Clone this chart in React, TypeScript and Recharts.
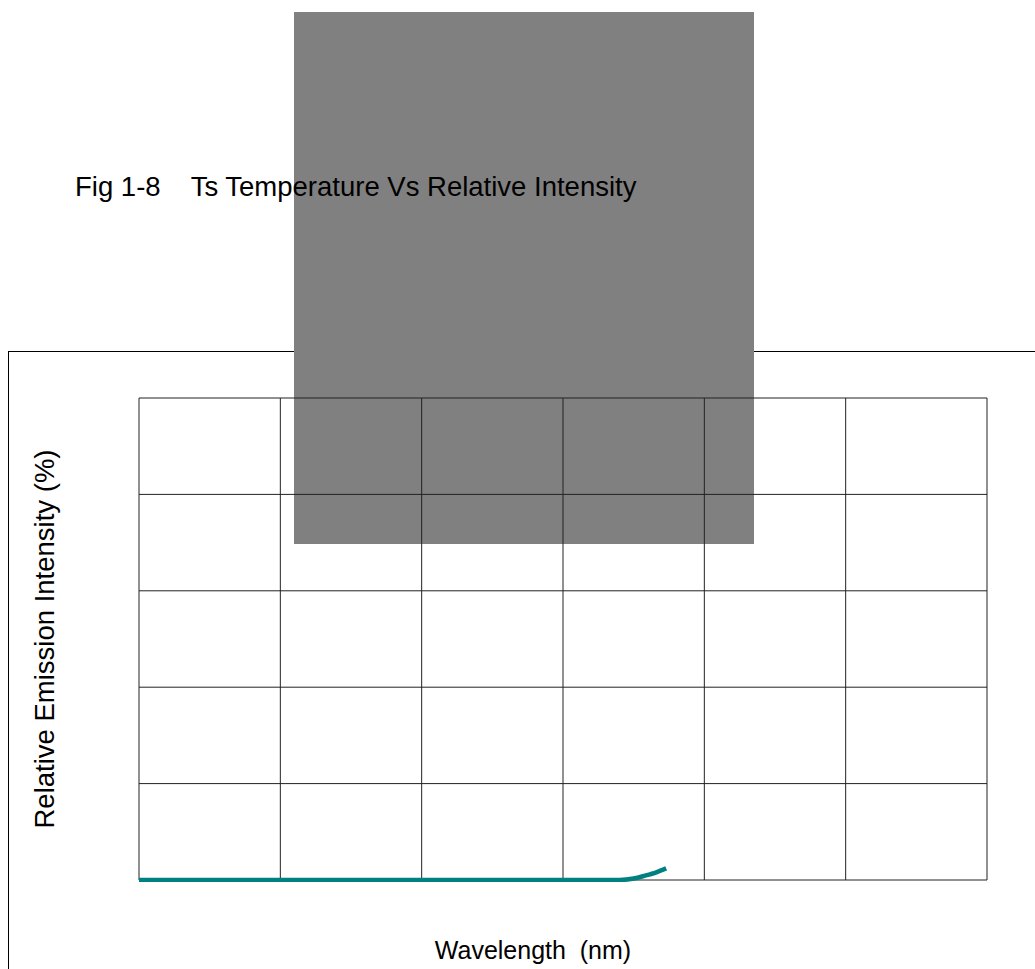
import React from "react";
import { LineChart, Line, XAxis, YAxis, CartesianGrid } from "recharts";

// curve (x in grid units x100, y in %)
const wavelengths = [0, 100, 200, 300, 340, 350, 358, 366, 373];
const intensity = [0, 0, 0, 0, 0, 0.3, 0.9, 1.6, 2.4];
const xTicks = [0, 100, 200, 300, 400, 500, 600];
const yTicks = [0, 20, 40, 60, 80, 100];

const data = wavelengths.map((w, i) => ({ w, v: intensity[i] }));

const font = '"Liberation Sans", Arial, sans-serif';

export default function App() {
  return (
    <div
      style={{
        position: "fixed",
        left: 0,
        top: 0,
        width: 1035,
        height: 969,
        overflow: "hidden",
        fontFamily: font,
        background: "#fff",
      }}
    >
      {/* outer frame runs off the right and bottom edges */}
      <div
        style={{
          position: "absolute",
          left: 8,
          top: 351,
          width: 1100,
          height: 700,
          border: "1px solid #000",
        }}
      />
      <div style={{ position: "absolute", left: 294, top: 12, width: 460, height: 532, background: "#808080" }} />
      <div
        style={{
          position: "absolute",
          left: 75,
          top: 173,
          fontSize: 27.5,
          lineHeight: 1,
          whiteSpace: "pre",
          color: "#000",
        }}
      >
        {"Fig 1-8    Ts Temperature Vs Relative Intensity"}
      </div>
      <div style={{ position: "absolute", left: 137, top: 396 }}>
        <LineChart width={852} height={486} data={data} margin={{ top: 2, right: 2, bottom: 2, left: 2 }}>
          <CartesianGrid stroke="#222" strokeWidth={1} />
          <XAxis dataKey="w" type="number" domain={[0, 600]} ticks={xTicks} hide />
          <YAxis type="number" domain={[0, 100]} ticks={yTicks} hide />
          <Line
            type="monotone"
            dataKey="v"
            stroke="#008080"
            strokeWidth={4.5}
            dot={false}
            isAnimationActive={false}
          />
        </LineChart>
      </div>
      <div
        style={{
          position: "absolute",
          left: 45,
          top: 639,
          transform: "translate(-50%, -50%) rotate(-90deg)",
          fontSize: 27.5,
          lineHeight: 1,
          whiteSpace: "pre",
        }}
      >
        Relative Emission Intensity (%)
      </div>
      <div
        style={{
          position: "absolute",
          left: 533,
          top: 950,
          transform: "translate(-50%, -50%)",
          fontSize: 25,
          lineHeight: 1,
          whiteSpace: "pre",
        }}
      >
        {"Wavelength  (nm)"}
      </div>
    </div>
  );
}
